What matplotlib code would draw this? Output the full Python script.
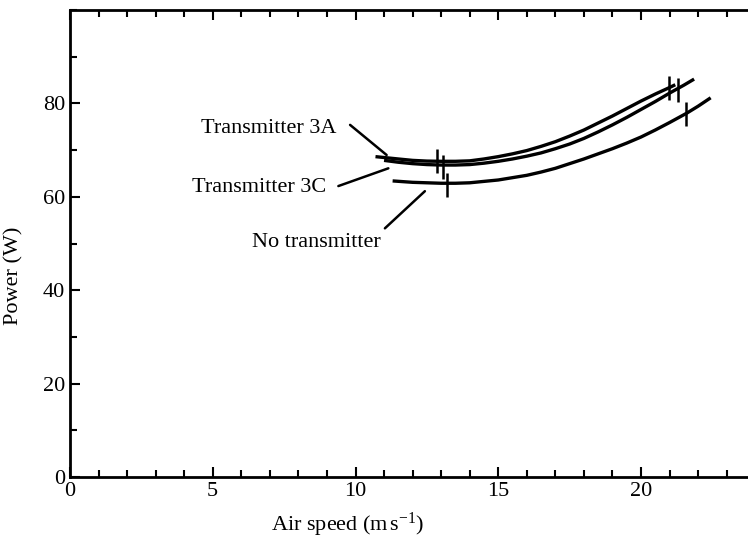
import matplotlib
matplotlib.use("Agg")
import matplotlib.pyplot as plt
from matplotlib.ticker import MultipleLocator

plt.rcParams['font.family'] = ['Liberation Serif', 'DejaVu Serif']
plt.rcParams['mathtext.fontset'] = 'custom'
plt.rcParams['mathtext.rm'] = 'Liberation Serif'
plt.rcParams['mathtext.it'] = 'Liberation Serif:italic'

# curves (air speed in m/s, power in W)
speed_3a = [10.7, 11.5, 12, 12.5, 13, 13.5, 14, 14.5, 15, 15.5, 16, 16.5, 17,
            17.5, 18, 18.5, 19, 19.5, 20, 20.5, 21, 21.2]
power_3a = [68.6, 68.1, 67.8, 67.65, 67.6, 67.6, 67.7, 68.1, 68.6, 69.2, 69.9,
            70.8, 71.8, 73.0, 74.3, 75.8, 77.3, 78.9, 80.5, 82.0, 83.4, 84.0]

speed_3c = [11.0, 11.5, 12, 12.5, 13, 13.5, 14, 14.5, 15, 15.5, 16, 16.5, 17,
            17.5, 18, 18.5, 19, 19.5, 20, 20.5, 21, 21.5, 21.86]
power_3c = [67.8, 67.4, 67.1, 66.9, 66.8, 66.8, 66.9, 67.2, 67.6, 68.1, 68.7,
            69.4, 70.3, 71.3, 72.5, 73.9, 75.4, 77.0, 78.7, 80.4, 82.2, 83.9, 85.2]

speed_none = [11.3, 12, 12.5, 13, 13.5, 14, 14.5, 15, 15.5, 16, 16.5, 17, 17.5,
              18, 18.5, 19, 19.5, 20, 20.5, 21, 21.6, 22, 22.44]
power_none = [63.4, 63.1, 63.0, 62.9, 62.9, 63.0, 63.3, 63.6, 64.1, 64.6, 65.3,
              66.1, 67.1, 68.1, 69.2, 70.3, 71.5, 72.8, 74.3, 75.9, 77.9, 79.4, 81.2]

# short vertical marks on each curve
mark_x_3a = [12.87, 20.98]
mark_y_3a = [67.6, 83.3]
mark_x_3c = [13.08, 21.31]
mark_y_3c = [66.3, 82.8]
mark_x_none = [13.19, 21.58]
mark_y_none = [62.6, 77.7]

fig = plt.figure(figsize=(7.48, 5.41), dpi=100)
ax = fig.add_axes([70/748, 64/541, 25*28.55/748, 467/541])

lw = 2.4
for sx, sy in [(speed_3a, power_3a), (speed_3c, power_3c), (speed_none, power_none)]:
    ax.plot(sx, sy, color='black', lw=lw, solid_capstyle='butt',
            solid_joinstyle='round')
for mx, my in [(mark_x_3a, mark_y_3a), (mark_x_3c, mark_y_3c), (mark_x_none, mark_y_none)]:
    ax.plot(mx, my, ls='none', marker='|', ms=17, mew=1.8, color='black')

ax.set_xlim(0, 25)
ax.set_ylim(0, 100)
ax.set_xticks([0, 5, 10, 15, 20])
ax.xaxis.set_minor_locator(MultipleLocator(1))
ax.set_yticks([0, 20, 40, 60, 80])
ax.yaxis.set_minor_locator(MultipleLocator(10))
ax.tick_params(which='both', direction='in', top=True, right=True, width=1.5,
               labelsize=16)
ax.tick_params(which='major', length=7)
ax.tick_params(which='minor', length=5)
for s in ax.spines.values():
    s.set_linewidth(2)

ax.set_xlabel('Air speed (m$\\,$s$^{-1}$)', fontsize=16)
ax.xaxis.set_label_coords(9.74/25, -0.072)
ax.set_ylabel('Power (W)', fontsize=16)
ax.yaxis.set_label_coords(-0.065, 0.43)

# labels with leader lines
line_kw = dict(arrowprops=dict(arrowstyle='-', lw=1.8, color='black',
                               shrinkA=0, shrinkB=0))
ax.text(6.97, 74.7, 'Transmitter 3A', fontsize=16, ha='center', va='center')
ax.annotate('', xy=(11.09, 68.95), xytext=(9.81, 75.4), **line_kw)
ax.text(6.62, 61.9, 'Transmitter 3C', fontsize=16, ha='center', va='center')
ax.annotate('', xy=(11.15, 66.1), xytext=(9.40, 62.3), **line_kw)
ax.text(8.62, 50.3, 'No transmitter', fontsize=16, ha='center', va='center')
ax.annotate('', xy=(12.43, 61.2), xytext=(11.03, 53.25), **line_kw)

fig.savefig('out.png', dpi=100)
